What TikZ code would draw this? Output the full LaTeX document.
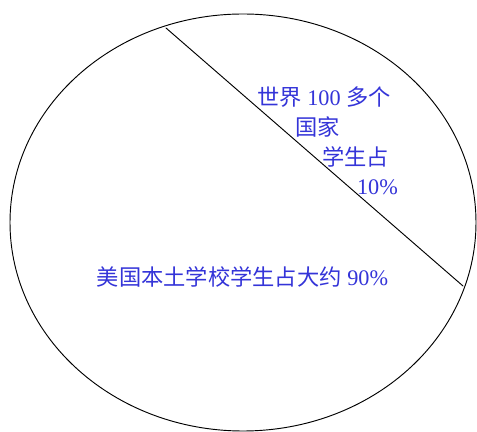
\documentclass[tikz,border=0pt]{standalone}
\usepackage{fontspec}
\setmainfont{Liberation Serif}
\newfontfamily\cjk{Noto Sans CJK SC}
\usepackage{tikz}
\usetikzlibrary{calc}
\usepackage{tkz-euclide}
\usepackage{xcolor}
\definecolor{LabelBlue}{HTML}{3434D8}

\begin{document}
\begin{tikzpicture}
    \useasboundingbox (0,0) rectangle (14.31,12.96);
    \tkzDefPoint(7.29,6.285){O}
    \tkzDefPoint(4.98,12.12){A}
    \tkzDefPoint(13.89,4.38){B}

    \draw[line width=0.8pt] (O) ellipse [x radius=6.99, y radius=6.255];
    \tkzDrawSegment[line width=0.8pt](A,B)

    \tikzset{share/.style={color=LabelBlue,font=\fontsize{19}{22}\selectfont,inner sep=0pt}}
    \node[share] (world) at (9.72,10.05) {{\cjk 世界} 100 {\cjk 多个}};
    \node[share] (country) at (9.525,9.15) {\cjk 国家};
    \node[share] (student) at (10.665,8.25) {\cjk 学生占};
    \node[share] (ten) at (11.325,7.35) {10\%};
    \node[share] (us) at (7.275,4.65) {{\cjk 美国本土学校学生占大约} 90\%};
   \end{tikzpicture}
\end{document}
